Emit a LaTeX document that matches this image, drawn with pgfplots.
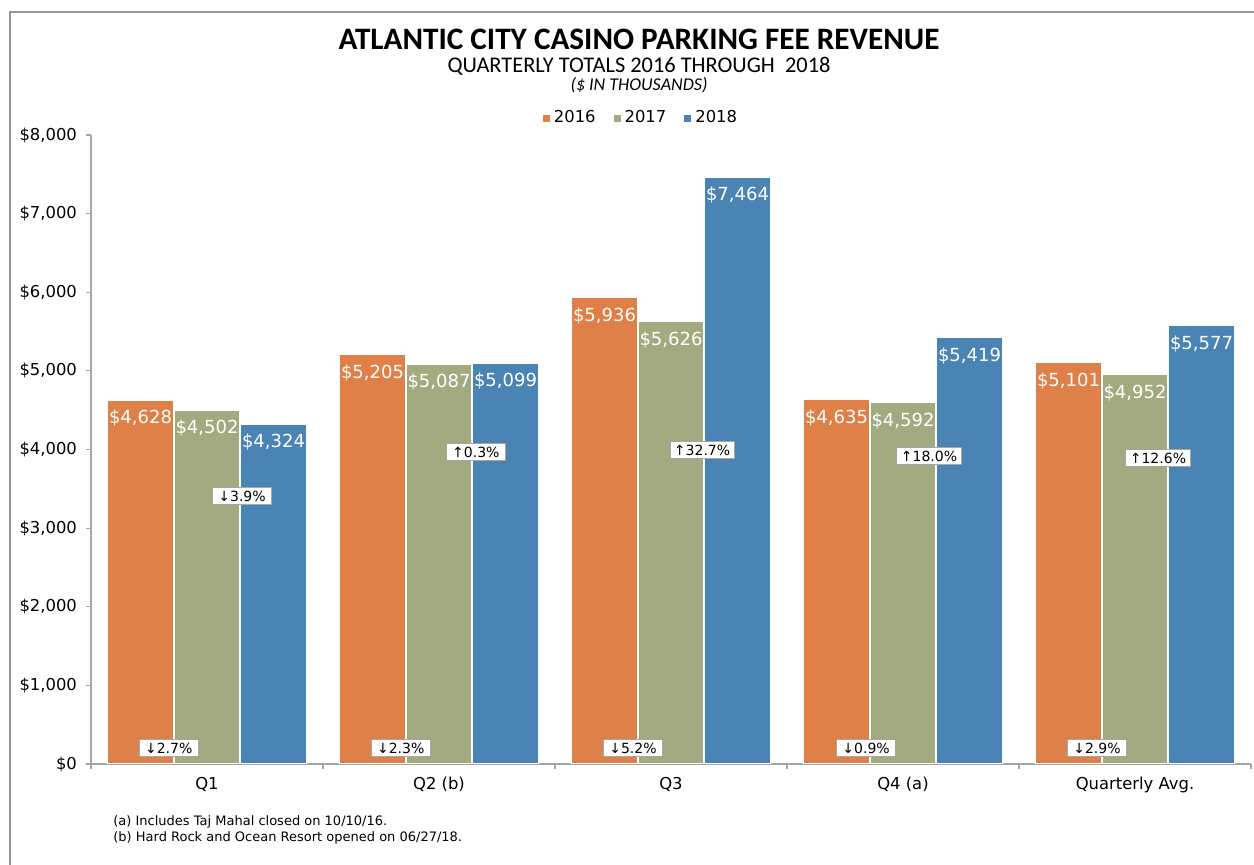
\documentclass[border=0pt]{standalone}
\usepackage{pgfplots}
\pgfplotsset{compat=1.18}
\usepackage{fontspec}
\setmainfont{DejaVu Sans}
\newfontfamily\titlefont{Carlito}
\definecolor{c16}{RGB}{222,128,72}
\definecolor{c17}{RGB}{164,170,128}
\definecolor{c18}{RGB}{74,132,180}
\definecolor{axgray}{RGB}{165,165,165}
\definecolor{framegray}{RGB}{150,150,150}
\begin{document}
\begin{tikzpicture}
\path[use as bounding box] (0,0) rectangle (627pt,432.5pt);
\begin{scope}[x=0.5pt,y=-0.5pt,yshift=432.5pt]
\draw[framegray, line width=1pt] (10,880) -- (10,12) -- (1270,12);
\node[font=\titlefont\bfseries\fontsize{15.6}{18}\selectfont, inner sep=0pt] at (639,39) {ATLANTIC CITY CASINO PARKING FEE REVENUE};
\node[font=\titlefont\fontsize{11.2}{13}\selectfont, inner sep=0pt] at (639,66) {QUARTERLY TOTALS 2016 THROUGH \ 2018};
\node[font=\titlefont\itshape\fontsize{9}{10}\selectfont, inner sep=0pt] at (639,85) {(\$ IN THOUSANDS)};
\node[font=\fontsize{6.5}{8}\selectfont, anchor=west, inner sep=0pt] at (113,822) {(a) Includes Taj Mahal closed on 10/10/16.};
\node[font=\fontsize{6.5}{8}\selectfont, anchor=west, inner sep=0pt] at (113,838) {(b) Hard Rock and Ocean Resort opened on 06/27/18.};
\end{scope}
\begin{axis}[
  at={(45.5pt,50.5pt)}, anchor=south west,
  scale only axis, width=580pt, height=314.5pt,
  xmin=-0.5, xmax=4.5, ymin=0, ymax=8000,
  axis x line*=bottom, axis y line*=left,
  axis line style={axgray, line width=0.6pt},
  tick align=outside,
  major tick length=2.5pt,
  tick style={axgray, line width=0.6pt},
  xtick={-0.5,0.5,1.5,2.5,3.5,4.5}, xticklabels={},
  extra x ticks={0,1,2,3,4},
  extra x tick labels={Q1, Q2 (b), Q3, Q4 (a), Quarterly Avg.},
  extra x tick style={major tick length=0pt, xticklabel style={yshift=-3pt}},
  ytick={0,1000,...,8000},
  yticklabel={\$\pgfmathprintnumber{\tick}},
  yticklabel style={xshift=-1pt},
  /pgf/number format/1000 sep={,},
  /pgf/number format/assume math mode=true,
  ticklabel style={font=\fontsize{8.2}{10}\selectfont},
  ybar=0.5pt, bar width=32.75pt,
  nodes near coords={\$\pgfmathprintnumber{\pgfplotspointmeta}},
  nodes near coords style={font=\fontsize{9}{10}\selectfont, text=white, anchor=north, yshift=-1.5pt},
  legend style={at={(0.475,1.027)}, anchor=center, draw=none, fill=none, legend columns=3,
    font=\fontsize{8.2}{10}\selectfont,
    /tikz/every even column/.append style={column sep=7pt}},
  legend image code/.code={\draw[#1, draw=none] (0pt,-1.75pt) rectangle (3.5pt,1.75pt);},
  clip=false,
]
\addplot[fill=c16, draw=white, line width=0.5pt] coordinates {(0,4628) (1,5205) (2,5936) (3,4635) (4,5101)};
\addplot[fill=c17, draw=white, line width=0.5pt] coordinates {(0,4502) (1,5087) (2,5626) (3,4592) (4,4952)};
\addplot[fill=c18, draw=white, line width=0.5pt] coordinates {(0,4324) (1,5099) (2,7464) (3,5419) (4,5577)};
\legend{2016, 2017, 2018}
\tikzset{pct/.style={draw=axgray, fill=white, font=\fontsize{7}{8}\selectfont, inner xsep=2pt, inner ysep=1.5pt, minimum width=29.5pt, minimum height=8.5pt}}
\node[pct] at (axis cs:-0.165,203) {↓2.7\%};
\node[pct] at (axis cs:0.151,3409) {↓3.9\%};
\node[pct] at (axis cs:0.835,203) {↓2.3\%};
\node[pct] at (axis cs:1.159,3968) {↑0.3\%};
\node[pct] at (axis cs:1.836,203) {↓5.2\%};
\node[pct] at (axis cs:2.134,3994) {↑32.7\%};
\node[pct] at (axis cs:2.841,203) {↓0.9\%};
\node[pct] at (axis cs:3.112,3918) {↑18.0\%};
\node[pct] at (axis cs:3.836,203) {↓2.9\%};
\node[pct] at (axis cs:4.099,3892) {↑12.6\%};
\end{axis}
\end{tikzpicture}
\end{document}
